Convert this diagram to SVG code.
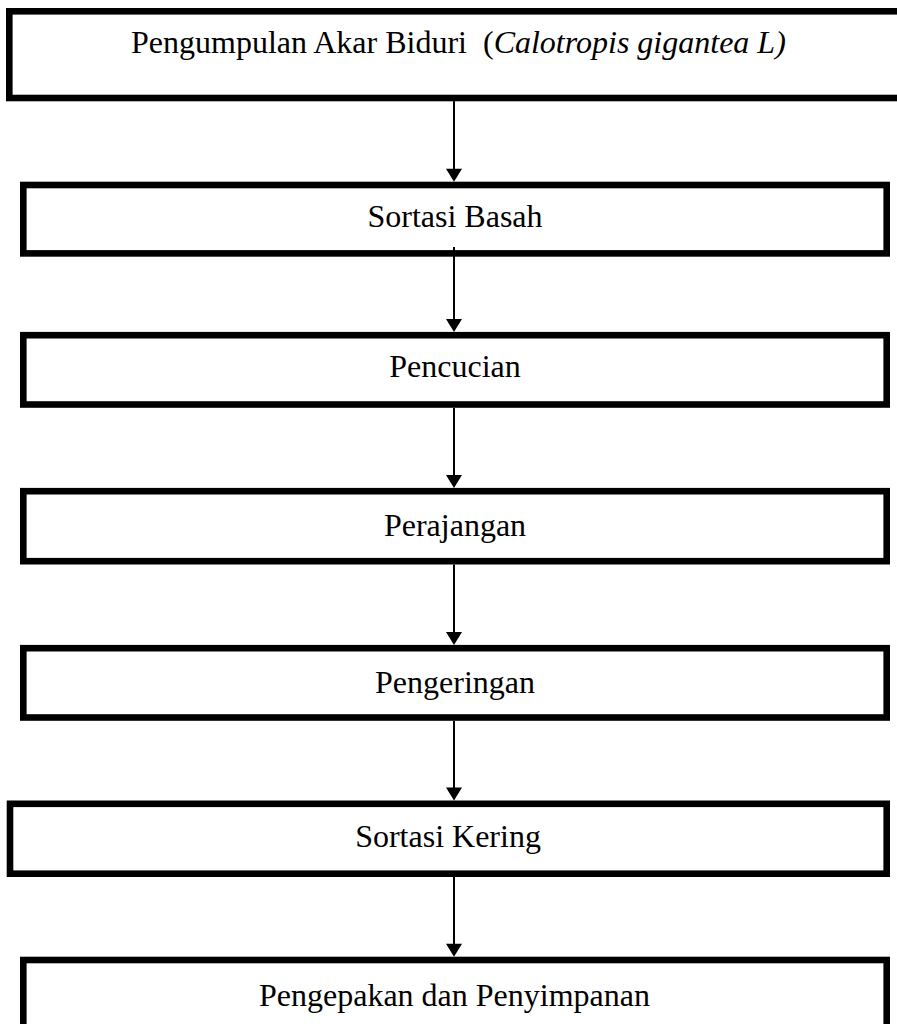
<svg xmlns="http://www.w3.org/2000/svg" width="897" height="1024" viewBox="0 0 897 1024">
<style>
.box{fill:#fff;stroke:#000;stroke-width:6.6}
.lbl{font-family:"Liberation Serif","Times New Roman",serif;font-size:32px;fill:#000;text-anchor:middle}
.it{font-style:italic}
.ln{stroke:#000;stroke-width:2;fill:none}
.hd{fill:#000}
</style>
<rect width="897" height="1024" fill="#fff"/>
<g id="n1">
<rect class="box" x="9.3" y="11.3" width="900" height="86.7"/>
<text x="131" y="53.3" xml:space="preserve" style="font-family:'Liberation Serif','Times New Roman',serif;font-size:32px">Pengumpulan Akar Biduri  (<tspan class="it">Calotropis gigantea L)</tspan></text>
</g>
<g id="n2">
<rect class="box" x="23.3" y="185" width="863.4" height="68.4"/>
<text class="lbl" x="455" y="227">Sortasi Basah</text>
</g>
<g id="n3">
<rect class="box" x="23.3" y="335.2" width="863.4" height="69.3"/>
<text class="lbl" x="455" y="377">Pencucian</text>
</g>
<g id="n4">
<rect class="box" x="23.3" y="491.2" width="863.4" height="70"/>
<text class="lbl" x="455" y="536">Perajangan</text>
</g>
<g id="n5">
<rect class="box" x="23.3" y="648.2" width="863.4" height="69.3"/>
<text class="lbl" x="455" y="693">Pengeringan</text>
</g>
<g id="n6">
<rect class="box" x="10" y="803.8" width="876.7" height="69.9"/>
<text class="lbl" x="448" y="847">Sortasi Kering</text>
</g>
<g id="n7">
<rect class="box" x="23.3" y="960" width="863.4" height="80"/>
<text class="lbl" x="454.5" y="1006">Pengepakan dan Penyimpanan</text>
</g>
<g id="connectors">
<line class="ln" x1="454" y1="101" x2="454" y2="169"/>
<path class="hd" d="M446,168.7 L462,168.7 L454,181.7 Z"/>
<line class="ln" x1="454" y1="247" x2="454" y2="319"/>
<path class="hd" d="M446,318.9 L462,318.9 L454,331.9 Z"/>
<line class="ln" x1="454" y1="408" x2="454" y2="475"/>
<path class="hd" d="M446,474.9 L462,474.9 L454,487.9 Z"/>
<line class="ln" x1="454" y1="564.5" x2="454" y2="632"/>
<path class="hd" d="M446,631.9 L462,631.9 L454,644.9 Z"/>
<line class="ln" x1="454" y1="721" x2="454" y2="788"/>
<path class="hd" d="M446,787.5 L462,787.5 L454,800.5 Z"/>
<line class="ln" x1="454" y1="877" x2="454" y2="944"/>
<path class="hd" d="M446,943.7 L462,943.7 L454,956.7 Z"/>
</g>
</svg>
